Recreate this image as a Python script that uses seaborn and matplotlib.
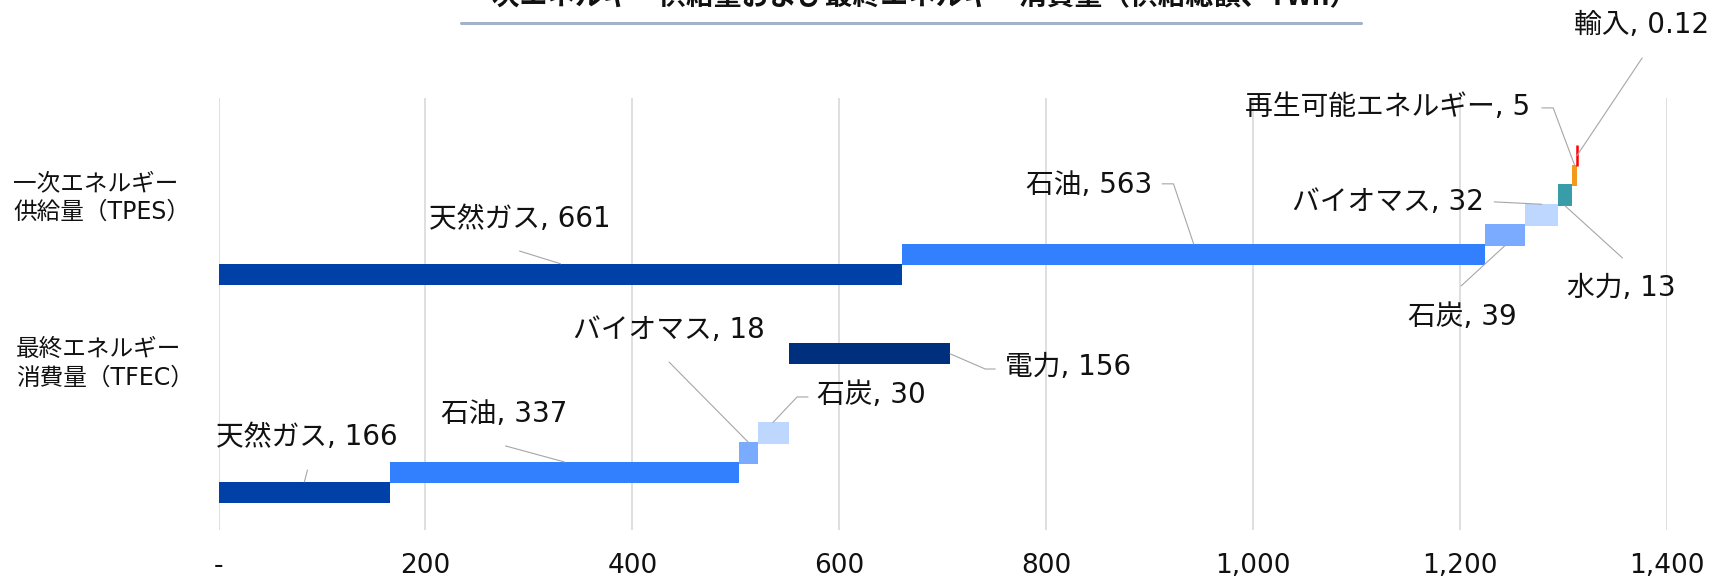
import numpy as np
import matplotlib
matplotlib.use("Agg")
import matplotlib.pyplot as plt
from matplotlib.lines import Line2D
import seaborn as sns

# ---- data (TWh) ----
tpes_sources = ["天然ガス", "石油", "石炭", "バイオマス", "水力", "再生可能エネルギー", "輸入"]
tpes_values = [661, 563, 39, 32, 13, 5, 0.12]

tfec_sources = ["天然ガス", "石油", "バイオマス", "石炭", "電力"]
tfec_values = [166, 337, 18, 30, 156]

group_labels = ["一次エネルギー\n供給量（TPES）", "最終エネルギー\n消費量（TFEC）"]
x_ticks = [0, 200, 400, 600, 800, 1000, 1200, 1400]
title = "一次エネルギー供給量および最終エネルギー消費量（供給総額、TWh）"

# ---- styling / layout ----
sns.set_theme(style="whitegrid")
plt.rcParams["font.family"] = ["DejaVu Sans", "Noto Sans CJK JP"]
TXT = ["DejaVu Sans", "Noto Sans CJK JP"]
TEXT_COLOR = "#111111"
LEADER = "#A6A6A6"

tpes_colors = ["#0041A8", "#3380FF", "#7AABFF", "#BDD7FF", "#389DA8", "#F39A1E", "#FF0000"]
tfec_colors = ["#0041A8", "#3380FF", "#7AABFF", "#BDD7FF", "#00307D"]
tpes_levels = [11, 12, 13, 14, 15, 16, 17]
tfec_levels = [0, 1, 2, 3, 7]
BAR_H = 1.08

# label centres and leader waypoints (data units), leader end anchor on bar
tpes_label_xy = [(291, 13.80), (841, 15.51), (1202, 8.85), (1130, 14.66),
                 (1356, 10.32), (1130, 19.45), (1375, 23.59)]
tpes_via = [[(291, 12.18)], [(912, 15.57), (923, 15.57)], [(1201, 10.42)],
            [(1233, 14.66)], [(1357, 11.83)], [(1279, 19.40), (1290, 19.40)],
            [(1376, 21.92)]]
tpes_anchor = ["top", "top", "bottom", "top", "bottom", "top", "center"]

tfec_label_xy = [(85.5, 2.80), (276.5, 3.96), (435.5, 8.20), (630.6, 4.92), (820.7, 6.33)]
tfec_via = [[(86, 1.135)], [(277.4, 2.35)], [(435.5, 6.58)],
            [(569.8, 4.82), (559.2, 4.82)], [(750.7, 6.23), (741.1, 6.23)]]
tfec_anchor = ["top", "top", "top", "top", "right"]

W, H = 1713, 585
fig = plt.figure(figsize=(W / 100, H / 100), dpi=100)
ax = fig.add_axes([218.5 / W, 1 - 530 / H, (1667 - 218.5) / W, (530 - 98) / H])


def draw_group(values, names, colors, levels, label_xy, via, anchors):
    lefts = np.concatenate([[0], np.cumsum(values)[:-1]])
    for v, left, name, c, lvl, lxy, pts, anc in zip(values, lefts, names, colors,
                                                     levels, label_xy, via, anchors):
        lw = 1.8 if v < 1 else 0
        ax.barh(lvl, v, left=left, height=BAR_H, color=c, edgecolor=c,
                linewidth=lw, zorder=3)
        mid = left + v / 2
        if anc == "top":
            end = (mid, lvl + BAR_H / 2)
        elif anc == "bottom":
            end = (mid, lvl - BAR_H / 2)
        elif anc == "right":
            end = (left + v, lvl)
        else:
            end = (mid, lvl)
        path = list(pts) + [end]
        ax.plot([p[0] for p in path], [p[1] for p in path], color=LEADER,
                lw=0.8, zorder=4, clip_on=False)
        ax.text(lxy[0], lxy[1], f"{name}, {v:g}", ha="center", va="center",
                fontsize=20, color=TEXT_COLOR, family=TXT, zorder=5)


draw_group(tpes_values, tpes_sources, tpes_colors, tpes_levels,
           tpes_label_xy, tpes_via, tpes_anchor)
draw_group(tfec_values, tfec_sources, tfec_colors, tfec_levels,
           tfec_label_xy, tfec_via, tfec_anchor)

ax.set_xlim(0, 1400)
ax.set_ylim(-1.89, 19.9)
ax.set_yticks([])
ax.set_xticks(x_ticks)
ax.set_xticklabels(["-" if t == 0 else f"{t:,}" for t in x_ticks],
                   fontsize=19, color=TEXT_COLOR)
ax.tick_params(axis="x", length=0, pad=16.5)
ax.grid(axis="x", color="#D9D9D9", lw=1.2, zorder=0)
ax.grid(axis="y", visible=False)
ax.set_facecolor("white")
for s in ax.spines.values():
    s.set_visible(False)

# group names on the left
fig.text(13 / W, 1 - 197.5 / H, group_labels[0], ha="left", va="center",
         fontsize=17, color=TEXT_COLOR, family=TXT, linespacing=1.25)
fig.text(16 / W, 1 - 363.5 / H, group_labels[1], ha="left", va="center",
         fontsize=17, color=TEXT_COLOR, family=TXT, linespacing=1.25)

# title and its rule
fig.text(911.5 / W, 1 - 4 / H, title, ha="center", va="baseline", fontsize=20,
         fontweight="bold", color=TEXT_COLOR, family=["Noto Sans CJK JP"])
fig.add_artist(Line2D([461 / W, 1361 / W], [1 - 22.5 / H, 1 - 22.5 / H],
                      color="#A5B1C9", lw=2.2, transform=fig.transFigure))

fig.savefig("out.png", dpi=100)
